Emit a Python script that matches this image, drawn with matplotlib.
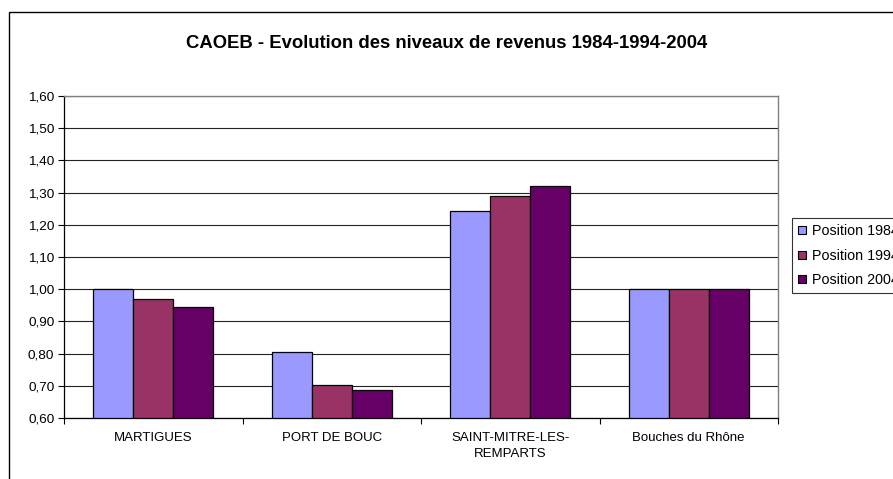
import matplotlib
matplotlib.use("Agg")
import matplotlib.pyplot as plt
import numpy as np
from matplotlib.patches import Patch, Rectangle

plt.rcParams['font.family'] = ['Liberation Sans', 'DejaVu Sans']

categories = ["MARTIGUES", "PORT DE BOUC", "SAINT-MITRE-LES-\nREMPARTS", "Bouches du Rhône"]
series_names = ["Position 1984", "Position 1994", "Position 2004"]
pos_1984 = [1.00, 0.805, 1.243, 1.00]
pos_1994 = [0.971, 0.704, 1.290, 1.00]
pos_2004 = [0.946, 0.687, 1.320, 1.00]
colors = ["#9999FF", "#993366", "#660066"]
yticks = [0.60, 0.70, 0.80, 0.90, 1.00, 1.10, 1.20, 1.30, 1.40, 1.50, 1.60]
title = "CAOEB - Evolution des niveaux de revenus 1984-1994-2004"

W, H = 893, 479
fig = plt.figure(figsize=(W / 100, H / 100), dpi=100)
ax = fig.add_axes([64 / W, 1 - 418 / H, (778 - 64) / W, (418 - 96) / H])

x = np.arange(len(categories))
bw = 0.224
series = [pos_1984, pos_1994, pos_2004]
for i, (vals, c, name) in enumerate(zip(series, colors, series_names)):
    ax.bar(x + (i - 1) * bw, np.array(vals) - 0.60, bottom=0.60, width=bw,
           color=c, edgecolor="black", linewidth=0.9, label=name, zorder=3)

ax.set_xlim(-0.5, len(categories) - 0.5)
ax.set_ylim(0.60, 1.60)
ax.set_yticks(yticks)
ax.set_yticklabels([f"{v:.2f}".replace(".", ",") for v in yticks], fontsize=9.7)
ax.yaxis.grid(True, color="#222222", linewidth=0.8, zorder=0)
ax.tick_params(axis="y", length=4, width=0.8, direction="out", pad=3)

ax.set_xticks(np.arange(len(categories) + 1) - 0.5)
ax.set_xticklabels([])
ax.tick_params(axis="x", which="major", length=4, width=0.8, direction="out")
ax.set_xticks(x, minor=True)
ax.set_xticklabels(categories, minor=True, fontsize=9.5, linespacing=1.45)
ax.tick_params(axis="x", which="minor", length=0, pad=10)

for s in ["top", "right"]:
    ax.spines[s].set_color("#808080")
    ax.spines[s].set_linewidth(1.0)
for s in ["left", "bottom"]:
    ax.spines[s].set_color("black")
    ax.spines[s].set_linewidth(0.9)

fig.text(0.5, 1 - 43 / H, title, ha="center", va="center", fontsize=13.3, fontweight="bold")

handles = [Patch(facecolor=c, edgecolor="black", linewidth=0.8) for c in colors]
leg = fig.legend(handles, series_names, loc="upper left",
                 bbox_to_anchor=(792 / W, 1 - 218 / H), bbox_transform=fig.transFigure,
                 fontsize=10.3, frameon=True, fancybox=False, borderpad=0.45,
                 handlelength=0.5, handleheight=0.5, handletextpad=0.45,
                 labelspacing=0.72, borderaxespad=0)
leg.get_frame().set_edgecolor("black")
leg.get_frame().set_linewidth(0.8)

fig.patches.append(Rectangle((9 / W, -0.1), 1.2, 1 - 12 / H + 0.1,
                             transform=fig.transFigure, fill=False,
                             edgecolor="black", linewidth=1.0, zorder=-1))

fig.savefig("out.png", dpi=100)
